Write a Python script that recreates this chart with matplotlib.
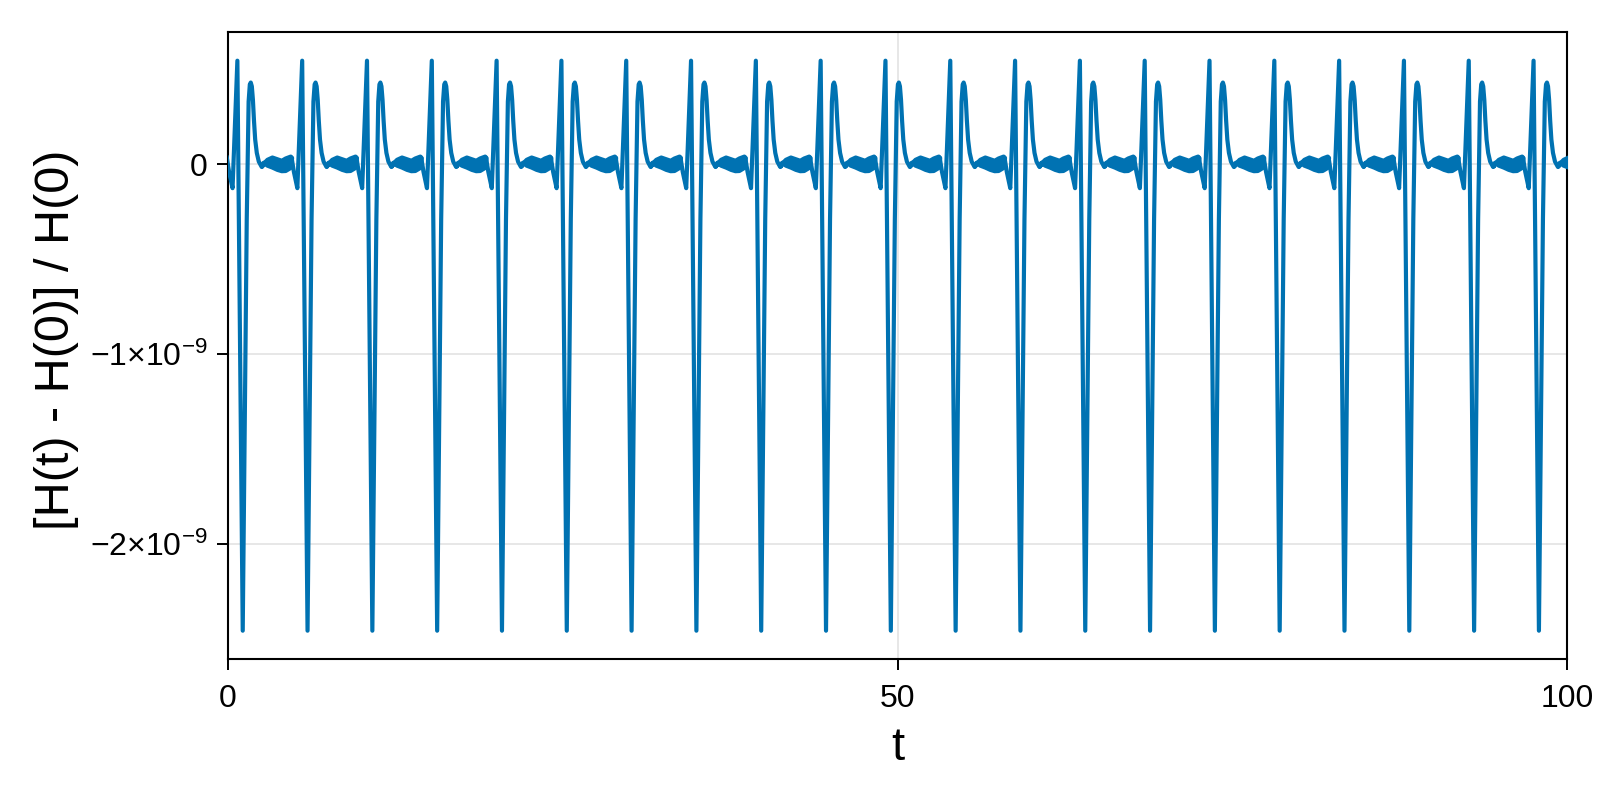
import numpy as np
import matplotlib.pyplot as plt

plt.rcParams['font.family'] = ['Liberation Sans', 'DejaVu Sans']
plt.rcParams['mathtext.fontset'] = 'custom'
plt.rcParams['mathtext.rm'] = 'Liberation Sans'
plt.rcParams['mathtext.it'] = 'Liberation Sans:italic'

# times of the upward spikes
spike_t = [0.70, 5.54, 10.38, 15.22, 20.06, 24.90, 29.74, 34.58, 39.42, 44.26,
           49.10, 53.94, 58.78, 63.62, 68.46, 73.30, 78.14, 82.98, 87.82, 92.66, 97.50]

# shape of one cycle, time relative to the upward spike, values in units of 1e-9
cycle_dt = [-0.79, -0.62, -0.36, 0.0, 0.40, 0.70, 0.84, 0.93, 1.00, 1.08, 1.16,
            1.24, 1.33, 1.45, 1.60, 1.80]
cycle_val = [0.035, -0.04, -0.126, 0.545, -2.455, -0.29, 0.33, 0.42, 0.43, 0.41, 0.34,
             0.23, 0.13, 0.06, 0.014, -0.012]

# fast wiggle band after each cycle (outer edges as seen)
band_dt = [1.80, 1.96, 2.21, 2.58, 2.95, 3.28, 3.57, 3.95, 4.05]
band_top = [-0.012, 0.019, 0.037, 0.049, 0.040, 0.032, 0.044, 0.054, 0.035]
band_bot = [-0.012, -0.004, -0.016, -0.026, -0.038, -0.045, -0.044, -0.028, 0.035]

yticks = [0, -1e-9, -2e-9]
ytick_labels = ['0', r'$-1{\times}10^{-9}$', r'$-2{\times}10^{-9}$']
xticks = [0, 50, 100]

blue = '#0072B2'
lw = 3.0
scale = 1e-9
half_w = 2.1 / 190  # half of line width in data units (x1e-9)

fig = plt.figure(figsize=(16, 8), dpi=100)
ax = fig.add_axes([0.1425, 0.176, 0.8369, 0.784])

band_top = np.array(band_top)
band_bot = np.array(band_bot)
band_mid = (band_top + band_bot) / 2
inner_top = np.maximum(band_top - half_w, band_mid)
inner_bot = np.minimum(band_bot + half_w, band_mid)

t_all, v_all = [], []
for ts in spike_t:
    t_all += [ts + d for d in cycle_dt] + [ts + d for d in band_dt[1:]]
    v_all += list(cycle_val) + list(band_mid[1:])
    tb = np.array(band_dt) + ts
    ax.fill_between(tb, inner_bot * scale, inner_top * scale, color=blue,
                    lw=lw, edgecolor=blue, zorder=3)

ax.plot(t_all, np.array(v_all) * scale, color=blue, lw=lw, zorder=3,
        solid_joinstyle='round')

ax.set_xlim(0, 100)
ax.set_ylim(-2.605e-9, 0.696e-9)
ax.set_xticks(xticks)
ax.set_yticks(yticks)
ax.set_yticklabels(ytick_labels)
ax.tick_params(labelsize=23, length=8, width=1.4, pad=7, direction='out')
ax.tick_params(axis='x', pad=10)
ax.grid(True, color='#e0e0e0', lw=1.1, zorder=0)
ax.set_axisbelow(True)
for side in ax.spines:
    ax.spines[side].set_linewidth(1.5)

ax.set_xlabel('t', fontsize=34, va='center')
ax.xaxis.set_label_coords(0.5, -0.142)
ax.set_ylabel('[H(t) - H(0)] / H(0)', fontsize=35, va='center')
ax.yaxis.set_label_coords(-0.128, 0.51)

fig.savefig('out.png', dpi=100)
